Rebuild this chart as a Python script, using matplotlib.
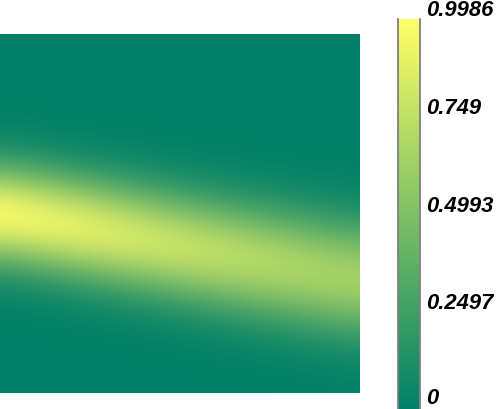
import numpy as np
import matplotlib
matplotlib.use("Agg")
import matplotlib.pyplot as plt
from matplotlib.colors import Normalize

# Concentration: one list per column (left -> right),
# each from the top row to the bottom row.
col_0 = [0, 0, 0, 0, 0.005, 0.026, 0.099, 0.275, 0.570, 0.876, 0.9986, 0.847, 0.533, 0.249, 0.087, 0.022, 0.004, 0.001, 0, 0, 0]
col_1 = [0, 0, 0, 0, 0.002, 0.012, 0.051, 0.160, 0.376, 0.670, 0.900, 0.914, 0.702, 0.407, 0.178, 0.059, 0.015, 0.003, 0, 0, 0]
col_2 = [0, 0, 0, 0, 0.001, 0.006, 0.025, 0.087, 0.231, 0.468, 0.727, 0.867, 0.794, 0.558, 0.301, 0.125, 0.040, 0.010, 0.002, 0, 0]
col_3 = [0, 0, 0, 0, 0, 0.002, 0.011, 0.043, 0.127, 0.293, 0.526, 0.733, 0.797, 0.675, 0.445, 0.229, 0.091, 0.028, 0.007, 0.001, 0]
col_4 = [0, 0, 0, 0, 0, 0.001, 0.005, 0.022, 0.071, 0.182, 0.365, 0.578, 0.723, 0.713, 0.556, 0.342, 0.166, 0.063, 0.019, 0.005, 0.001]
col_5 = [0, 0, 0, 0, 0, 0, 0.003, 0.011, 0.039, 0.109, 0.242, 0.430, 0.609, 0.690, 0.624, 0.452, 0.261, 0.120, 0.044, 0.013, 0.003]
col_6 = [0, 0, 0, 0, 0, 0, 0.001, 0.006, 0.021, 0.064, 0.155, 0.305, 0.483, 0.620, 0.642, 0.538, 0.364, 0.199, 0.088, 0.031, 0.009]

cbar_ticks = [0, 0.2497, 0.4993, 0.749, 0.9986]
cbar_labels = ["0", "0.2497", "0.4993", "0.749", "0.9986"]

field = np.array([col_0, col_1, col_2, col_3, col_4, col_5, col_6]).T
n_rows, n_cols = field.shape

fig = plt.figure(figsize=(5.0, 4.09), dpi=100)
ax = fig.add_axes([0.0, 16 / 409, 360 / 500, 359 / 409])
norm = Normalize(vmin=cbar_ticks[0], vmax=cbar_ticks[-1])
im = ax.imshow(field, cmap="summer", norm=norm, interpolation="bicubic",
               extent=[-0.5, n_cols - 0.5, n_rows - 0.5, -0.5], aspect="auto")
ax.set_xlim(0, n_cols - 1)
ax.set_ylim(n_rows - 1.06, 0)
ax.set_axis_off()

cax = fig.add_axes([398 / 500, 0.0, 22 / 500, 390 / 409])
cb = fig.colorbar(im, cax=cax)
cb.outline.set_visible(False)
cax.axvline(0, color="#808080", lw=1.3, clip_on=False)
cax.axvline(1, color="#808080", lw=1.3, clip_on=False)
cb.set_ticks(cbar_ticks)
cax.set_yticklabels([])
cax.tick_params(length=0)
for v, lab in zip(cbar_ticks, cbar_labels):
    dy = 2.5 if v > cbar_ticks[0] else 5
    cax.annotate(lab, xy=(1, v), xycoords=("axes fraction", "data"),
                 xytext=(6, dy), textcoords="offset pixels",
                 ha="left", va="baseline", fontsize=15.8,
                 fontfamily="Liberation Sans", fontweight="bold",
                 fontstyle="italic", annotation_clip=False)

fig.savefig("out.png", dpi=100)
